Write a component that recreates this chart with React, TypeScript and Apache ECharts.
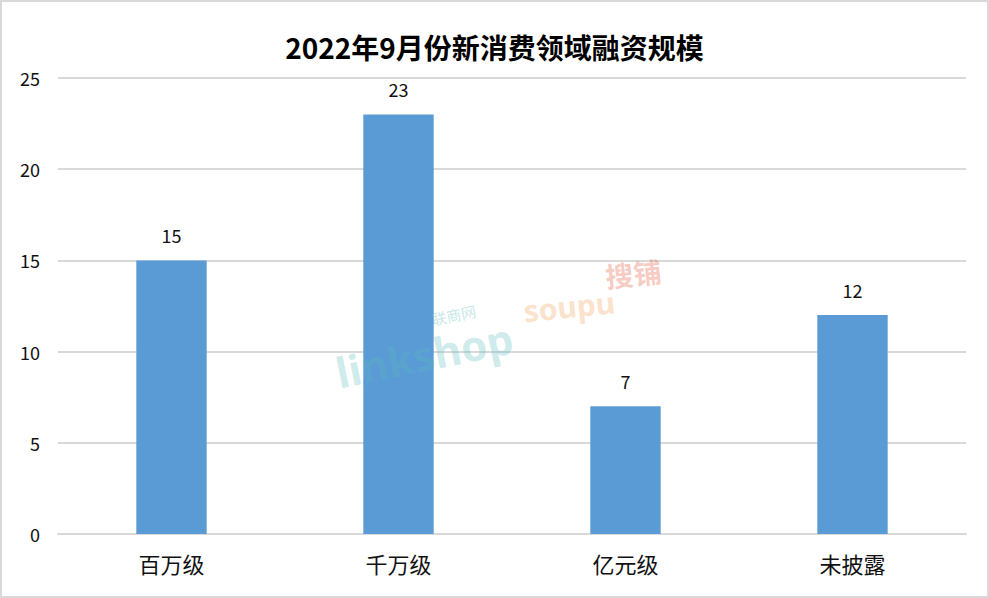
import React, { useEffect, useRef } from "react";
import * as echarts from "echarts";

const titleText = "2022年9月份新消费领域融资规模";
const categories = ["百万级", "千万级", "亿元级", "未披露"];
const values = [15, 23, 7, 12];
const yTicks = { min: 0, max: 25, interval: 5 };

export default function App() {
  const ref = useRef<HTMLDivElement>(null);
  useEffect(() => {
    document.body.style.margin = "0";
    const chart = echarts.init(ref.current!, null, { renderer: "svg" });
    const font = "'Noto Sans CJK SC', 'Noto Sans', sans-serif";
    chart.setOption({
      animation: false,
      backgroundColor: "#ffffff",
      textStyle: { fontFamily: font },
      title: {
        text: titleText,
        left: "center",
        top: 28,
        textStyle: { fontSize: 28, fontWeight: "bold", color: "#000", fontFamily: font },
      },
      grid: { left: 58, right: 23, top: 78, bottom: 64, containLabel: false },
      xAxis: {
        type: "category",
        data: categories,
        axisLine: { show: true, lineStyle: { color: "#d9d9d9", width: 2 } },
        axisTick: { show: false },
        axisLabel: { fontSize: 22, color: "#111", margin: 18, fontFamily: font },
      },
      yAxis: {
        type: "value",
        min: yTicks.min,
        max: yTicks.max,
        interval: yTicks.interval,
        axisLine: { show: false },
        axisTick: { show: false },
        splitLine: { lineStyle: { color: "#d9d9d9", width: 2 } },
        axisLabel: { fontSize: 18, color: "#111", margin: 18, fontFamily: font },
      },
      series: [
        {
          type: "bar",
          data: values,
          barWidth: "31%",
          itemStyle: { color: "#5b9bd5" },
          label: {
            show: true,
            position: "top",
            distance: 16,
            fontSize: 18,
            color: "#111",
            fontFamily: font,
          },
        },
      ],
      graphic: [
        {
          type: "rect",
          shape: { x: 1, y: 1, width: 987, height: 596 },
          style: { fill: "none", stroke: "#d9d9d9", lineWidth: 2 },
          silent: true,
        },
        {
          type: "text",
          x: 332,
          y: 352,
          rotation: 0.2,
          silent: true,
          z: 10,
          style: {
            text: "linkshop",
            font: "bold 42px 'Noto Sans', sans-serif",
            fill: "rgba(90,185,190,0.3)",
          },
        },
        {
          type: "text",
          x: 430,
          y: 312,
          rotation: 0.2,
          silent: true,
          z: 10,
          style: {
            text: "联商网",
            font: "15px 'Noto Sans CJK SC', sans-serif",
            fill: "rgba(90,185,190,0.35)",
          },
        },
        {
          type: "text",
          x: 522,
          y: 296,
          rotation: 0.1,
          silent: true,
          z: 10,
          style: {
            text: "soupu",
            font: "bold 30px 'Noto Sans', sans-serif",
            fill: "rgba(245,180,120,0.4)",
          },
        },
        {
          type: "text",
          x: 604,
          y: 262,
          rotation: 0.1,
          silent: true,
          z: 10,
          style: {
            text: "搜铺",
            font: "bold 28px 'Noto Sans CJK SC', sans-serif",
            fill: "rgba(235,120,100,0.4)",
          },
        },
      ],
    });
    return () => chart.dispose();
  }, []);
  return (
    <div
      ref={ref}
      style={{ position: "absolute", left: 0, top: 0, width: 989, height: 598 }}
    />
  );
}
